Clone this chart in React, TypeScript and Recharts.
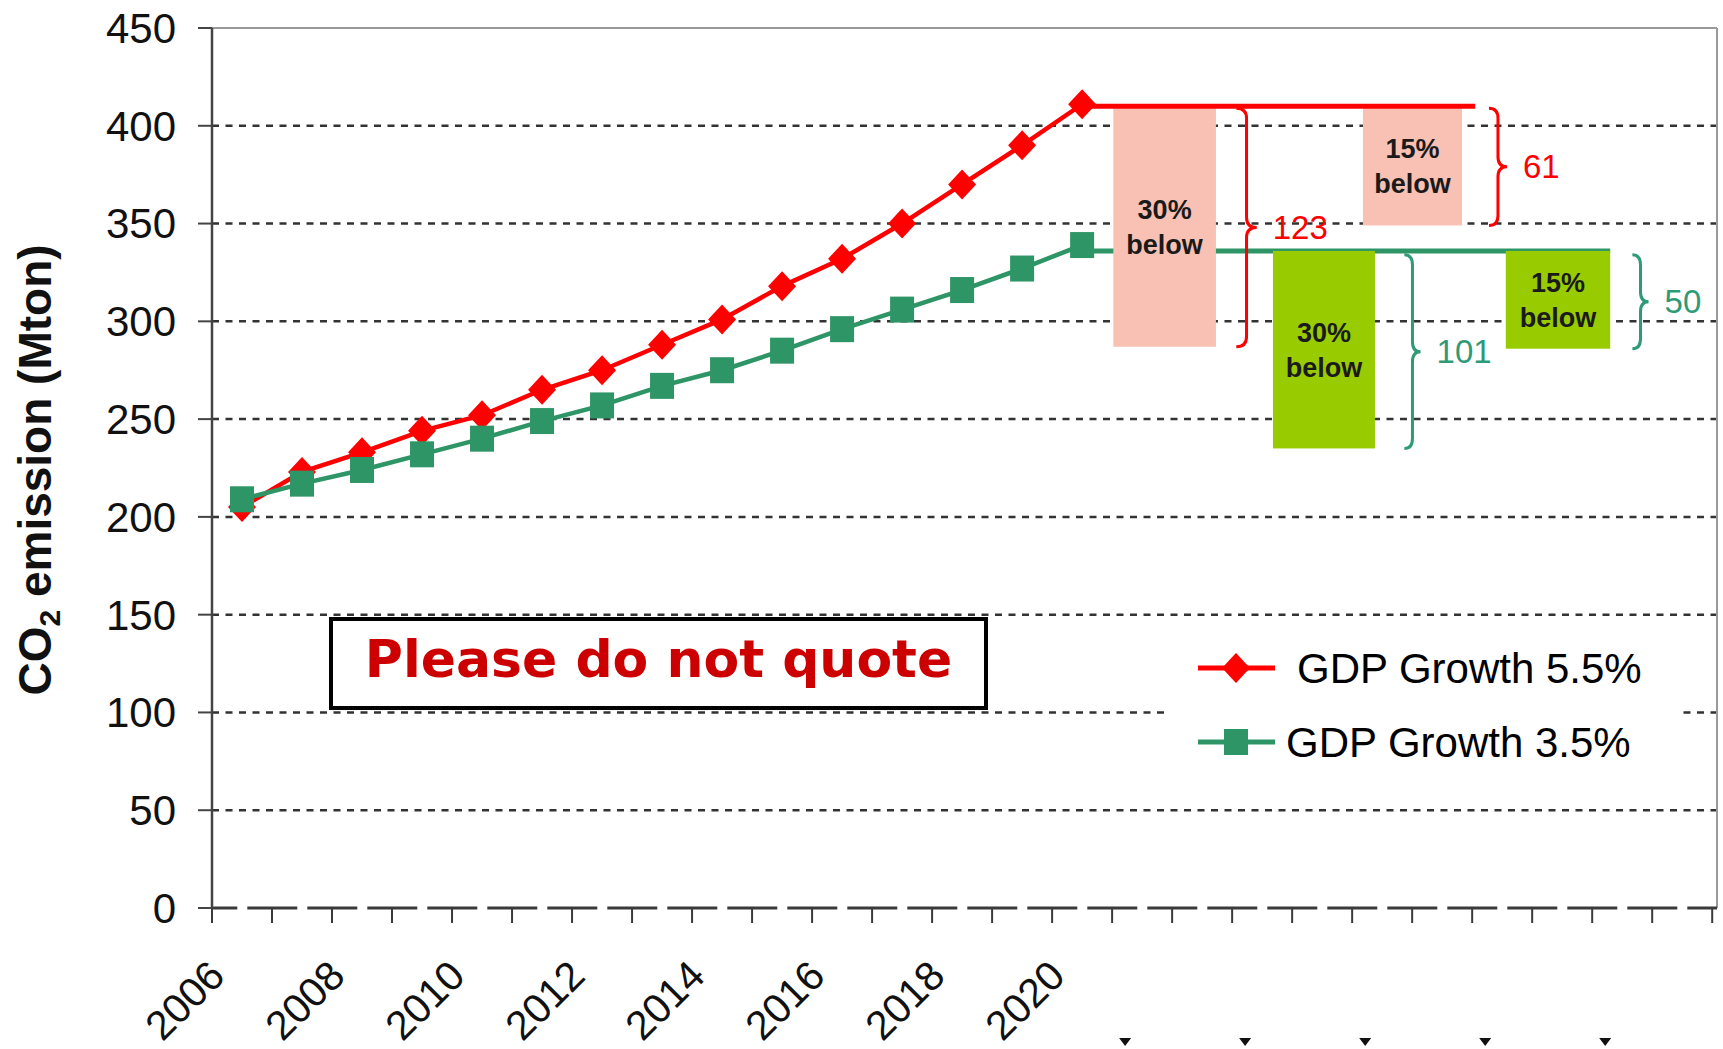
import React from 'react';
import {
  ComposedChart,
  Line,
  XAxis,
  YAxis,
  ReferenceLine,
  ReferenceArea,
  Legend,
} from 'recharts';

// Emission paths 2006-2020 (Mton CO2)
const years = [2006, 2007, 2008, 2009, 2010, 2011, 2012, 2013, 2014, 2015, 2016, 2017, 2018, 2019, 2020];
const gdp55 = [205, 223, 233, 244, 252, 265, 275, 288, 301, 318, 332, 350, 370, 390, 411];
const gdp35 = [209, 217, 224, 232, 240, 249, 257, 267, 275, 285, 296, 306, 316, 327, 339];

const yTicks = [0, 50, 100, 150, 200, 250, 300, 350, 400, 450];
const gridValues = [50, 100, 150, 200, 250, 300, 350, 400];
const labelYears = [2006, 2008, 2010, 2012, 2014, 2016, 2018, 2020];
const markerYears = [2022, 2024, 2026, 2028, 2030];

// 2020 levels held flat, and the reductions below them
const level55 = 410;
const level35 = 336;
const cutNames = ['30%', '15%'];
const cuts55 = [123, 61];
const cuts35 = [101, 50];

const data = years.map((year, i) => ({ year, gdp55: gdp55[i], gdp35: gdp35[i] }));

// layout (x in year units)
const X_MIN = 2005.5;
const X_MAX = 2030.58;
const tickBounds = Array.from({ length: 26 }, (_, i) => X_MIN + i);
const boxes55 = [[2020.52, 2022.23], [2024.68, 2026.33]];
const boxes35 = [[2023.18, 2024.88], [2027.06, 2028.8]];
const braces55 = [[2022.57, 2022.91], [2026.78, 2027.08]];
const braces35 = [[2025.37, 2025.64], [2029.17, 2029.44]];
const end55 = 2026.55;
const end35 = 2028.8;

const RED = '#ff0000';
const GREEN = '#2e9566';
const TEAL = '#2f9a76';
const PINK = '#f8c1b3';
const LIME = '#99cc00';
const FONT = '"Liberation Sans", Arial, sans-serif';

const Diamond = ({ cx, cy }: any) =>
  cx == null ? null : (
    <path d={`M${cx},${cy - 15} L${cx + 14},${cy} L${cx},${cy + 15} L${cx - 14},${cy} Z`} fill={RED} />
  );

const Square = ({ cx, cy }: any) =>
  cx == null ? null : <rect x={cx - 12} y={cy - 13} width={24} height={26} fill={GREEN} />;

const YearTick = ({ x, y, payload }: any) => {
  const year = payload.value + 0.5;
  if (labelYears.includes(year)) {
    return (
      <text
        transform={`translate(${x + 15},${y + 53}) rotate(-45)`}
        textAnchor="end"
        fontSize={41}
        fontFamily={FONT}
        fill="#111"
      >
        {year}
      </text>
    );
  }
  if (markerYears.includes(year)) {
    const cx = x - 47;
    const cy = y + 117;
    return <path d={`M${cx - 6},${cy - 4} L${cx + 6},${cy - 4} L${cx},${cy + 4} Z`} fill="#111" />;
  }
  return <g />;
};

const CutBox = ({ x, y, width, height, fill, name }: any) => {
  const cx = x + width / 2;
  const cy = y + height / 2;
  const txt = { textAnchor: 'middle' as const, fontSize: 27, fontWeight: 'bold', fontFamily: FONT, fill: '#1a1a1a' };
  return (
    <g>
      <rect x={x} y={y} width={width} height={height} fill={fill} />
      <text x={cx} y={cy - 17} dy="0.35em" {...txt}>{name}</text>
      <text x={cx} y={cy + 18} dy="0.35em" {...txt}>below</text>
    </g>
  );
};

const Brace = ({ x, y, width, height, color, value }: any) => {
  const mid = x + width / 2;
  const cy = y + height / 2;
  const r = Math.min(10, height / 6);
  const d =
    `M${x},${y} Q${mid},${y} ${mid},${y + r} L${mid},${cy - r} Q${mid},${cy} ${x + width},${cy} ` +
    `Q${mid},${cy} ${mid},${cy + r} L${mid},${y + height - r} Q${mid},${y + height} ${x},${y + height}`;
  return (
    <g>
      <path d={d} fill="none" stroke={color} strokeWidth={3} />
      <text x={x + width + 16} y={cy} dy="0.35em" fontSize={33} fontFamily={FONT} fill={color}>
        {value}
      </text>
    </g>
  );
};

const LegendBox = () => (
  <svg width={511} height={150}>
    <line x1={28} y1={38} x2={105} y2={38} stroke={RED} strokeWidth={5} />
    <Diamond cx={66} cy={38} />
    <text x={127} y={38} dy="0.35em" fontSize={42} fontFamily={FONT} fill="#000">
      GDP Growth 5.5%
    </text>
    <line x1={28} y1={112} x2={105} y2={112} stroke={GREEN} strokeWidth={5} />
    <Square cx={66} cy={112} />
    <text x={116} y={112} dy="0.35em" fontSize={42} fontFamily={FONT} fill="#000">
      GDP Growth 3.5%
    </text>
  </svg>
);

const AxisTitle = () => (
  <text
    transform="translate(51,470) rotate(-90)"
    textAnchor="middle"
    fontSize={46}
    fontWeight="bold"
    fontFamily={FONT}
    fill="#111"
  >
    CO<tspan fontSize={30} dy={9}>2</tspan>
    <tspan dy={-9}> emission (Mton)</tspan>
  </text>
);

export default function App() {
  return (
    <div style={{ position: 'absolute', left: 0, top: 0, width: 1723, height: 1049, background: '#fff' }}>
      <ComposedChart width={1723} height={1049} data={data} margin={{ top: 28, right: 6, bottom: 0, left: 0 }}>
        <XAxis
          type="number"
          dataKey="year"
          domain={[X_MIN, X_MAX]}
          ticks={tickBounds}
          interval={0}
          allowDataOverflow
          height={141}
          tickSize={15}
          tickLine={{ stroke: '#3a3a3a', strokeWidth: 2 }}
          axisLine={{ stroke: '#3a3a3a', strokeWidth: 3, strokeDasharray: '50 10', strokeDashoffset: 24.7 }}
          tick={(p: any) => <YearTick {...p} />}
        />
        <YAxis
          domain={[0, 450]}
          ticks={yTicks}
          interval={0}
          width={212}
          tickSize={14}
          tickMargin={22}
          axisLine={{ stroke: '#444', strokeWidth: 2.5 }}
          tickLine={{ stroke: '#444', strokeWidth: 2 }}
          tick={{ fontSize: 42, fill: '#111', fontFamily: FONT }}
          label={() => <AxisTitle />}
        />

        {gridValues.map((v) => (
          <ReferenceLine key={`g${v}`} y={v} stroke="#333" strokeWidth={2.5} strokeDasharray="7 6.5" zIndex={-50} />
        ))}
        <ReferenceLine y={450} stroke="#999" strokeWidth={2} zIndex={-50} />
        <ReferenceLine x={X_MAX} stroke="#999" strokeWidth={2} zIndex={-50} />

        <ReferenceLine
          segment={[{ x: 2020, y: level35 }, { x: end35, y: level35 }]}
          stroke={GREEN}
          strokeWidth={5}
          zIndex={50}
        />

        {boxes55.map(([x1, x2], i) => (
          <ReferenceArea
            key={`b55${i}`}
            x1={x1}
            x2={x2}
            y1={level55 - cuts55[i]}
            y2={level55}
            zIndex={60}
            shape={(p: any) => <CutBox {...p} fill={PINK} name={cutNames[i]} />}
          />
        ))}
        {boxes35.map(([x1, x2], i) => (
          <ReferenceArea
            key={`b35${i}`}
            x1={x1}
            x2={x2}
            y1={level35 - cuts35[i]}
            y2={level35}
            zIndex={60}
            shape={(p: any) => <CutBox {...p} fill={LIME} name={cutNames[i]} />}
          />
        ))}

        <ReferenceLine
          segment={[{ x: 2020, y: level55 }, { x: end55, y: level55 }]}
          stroke={RED}
          strokeWidth={5}
          zIndex={70}
        />

        {braces55.map(([x1, x2], i) => (
          <ReferenceArea
            key={`r55${i}`}
            x1={x1}
            x2={x2}
            y1={level55 - cuts55[i]}
            y2={level55 - 1}
            zIndex={80}
            shape={(p: any) => <Brace {...p} color={RED} value={cuts55[i]} />}
          />
        ))}
        {braces35.map(([x1, x2], i) => (
          <ReferenceArea
            key={`r35${i}`}
            x1={x1}
            x2={x2}
            y1={level35 - cuts35[i]}
            y2={level35 - 2}
            zIndex={80}
            shape={(p: any) => <Brace {...p} color={TEAL} value={cuts35[i]} />}
          />
        ))}

        <Line
          dataKey="gdp55"
          stroke={RED}
          strokeWidth={4.5}
          dot={(p: any) => <Diamond key={`d${p.index}`} {...p} />}
          activeDot={false}
          isAnimationActive={false}
          legendType="none"
        />
        <Line
          dataKey="gdp35"
          stroke={GREEN}
          strokeWidth={4.5}
          dot={(p: any) => <Square key={`s${p.index}`} {...p} />}
          activeDot={false}
          isAnimationActive={false}
          legendType="none"
        />

        <Legend
          layout="vertical"
          align="center"
          verticalAlign="middle"
          width={511}
          height={150}
          content={() => <LegendBox />}
          wrapperStyle={{ position: 'absolute', left: 1170, top: 630, width: 511, height: 150, background: '#fff' }}
        />
      </ComposedChart>

      <div
        style={{
          position: 'absolute',
          left: 329,
          top: 617,
          width: 659,
          height: 93,
          boxSizing: 'border-box',
          border: '4px solid #000',
          background: '#fff',
          display: 'flex',
          alignItems: 'center',
          justifyContent: 'center',
          paddingBottom: 10,
          fontFamily: '"DejaVu Sans", Verdana, sans-serif',
          fontWeight: 'bold',
          fontSize: 52,
          color: '#cc0000',
        }}
      >
        Please do not quote
      </div>
    </div>
  );
}
